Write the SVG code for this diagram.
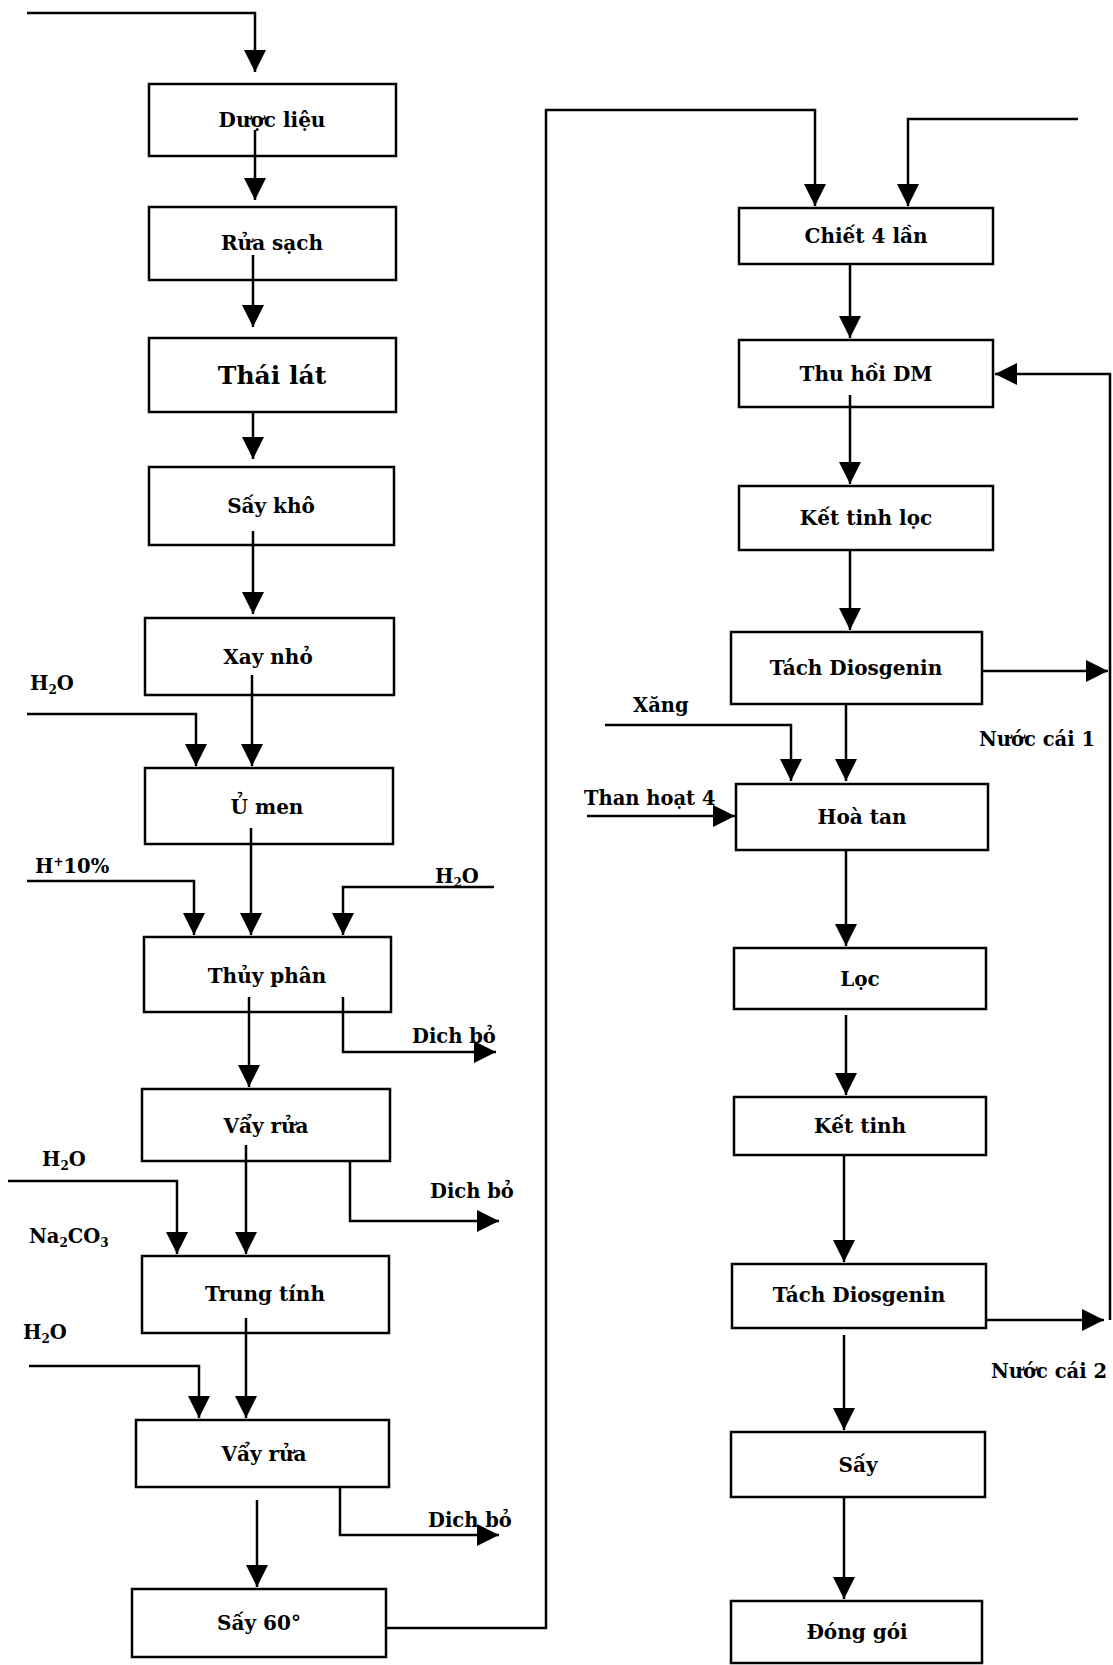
<svg xmlns="http://www.w3.org/2000/svg" width="1113" height="1665" viewBox="0 0 1113 1665">
<defs>
<marker id="ah" viewBox="0 0 22 22" refX="22" refY="11" markerWidth="22" markerHeight="22" markerUnits="userSpaceOnUse" orient="auto">
<path d="M0,0 L22,11 L0,22 z" fill="#000"/>
</marker>
<style>
.box{fill:#fff;stroke:#000;stroke-width:2.5}
.t{font-family:"DejaVu Serif","Liberation Serif",serif;font-weight:bold;font-size:20px;text-anchor:middle;fill:#000}
.l{font-family:"DejaVu Serif","Liberation Serif",serif;font-weight:bold;font-size:19.5px;fill:#000}
.c{fill:none;stroke:#000;stroke-width:2.5;marker-end:url(#ah)}
.s{font-size:12px}
</style>
</defs>
<rect width="1113" height="1665" fill="#fff"/>

<g id="n1"><rect class="box" x="149" y="84" width="247" height="72"/><text class="t" x="272" y="127">Dược liệu</text></g>
<g id="n2"><rect class="box" x="149" y="207" width="247" height="73"/><text class="t" x="272" y="250">Rửa sạch</text></g>
<g id="n3"><rect class="box" x="149" y="338" width="247" height="74"/><text class="t" x="272" y="384" style="font-size:25px">Thái lát</text></g>
<g id="n4"><rect class="box" x="149" y="467" width="245" height="78"/><text class="t" x="271" y="513">Sấy khô</text></g>
<g id="n5"><rect class="box" x="145" y="618" width="249" height="77"/><text class="t" x="268" y="664">Xay nhỏ</text></g>
<g id="n6"><rect class="box" x="145" y="768" width="248" height="76"/><text class="t" x="267" y="814">Ủ men</text></g>
<g id="n7"><rect class="box" x="144" y="937" width="247" height="75"/><text class="t" x="267" y="983">Thủy phân</text></g>
<g id="n8"><rect class="box" x="142" y="1089" width="248" height="72"/><text class="t" x="266" y="1133">Vẩy rửa</text></g>
<g id="n9"><rect class="box" x="142" y="1256" width="247" height="77"/><text class="t" x="265" y="1301">Trung tính</text></g>
<g id="n10"><rect class="box" x="136" y="1420" width="253" height="67"/><text class="t" x="264" y="1461">Vẩy rửa</text></g>
<g id="n11"><rect class="box" x="132" y="1589" width="254" height="68"/><text class="t" x="259" y="1630">Sấy 60°</text></g>

<g id="n12"><rect class="box" x="739" y="208" width="254" height="56"/><text class="t" x="866" y="243">Chiết 4 lần</text></g>
<g id="n13"><rect class="box" x="739" y="340" width="254" height="67"/><text class="t" x="866" y="381">Thu hồi DM</text></g>
<g id="n14"><rect class="box" x="739" y="486" width="254" height="64"/><text class="t" x="866" y="525">Kết tinh lọc</text></g>
<g id="n15"><rect class="box" x="731" y="632" width="251" height="72"/><text class="t" x="856" y="675">Tách Diosgenin</text></g>
<g id="n16"><rect class="box" x="736" y="784" width="252" height="66"/><text class="t" x="862" y="824">Hoà tan</text></g>
<g id="n17"><rect class="box" x="734" y="948" width="252" height="61"/><text class="t" x="860" y="986">Lọc</text></g>
<g id="n18"><rect class="box" x="734" y="1097" width="252" height="58"/><text class="t" x="860" y="1133">Kết tinh</text></g>
<g id="n19"><rect class="box" x="732" y="1264" width="254" height="64"/><text class="t" x="859" y="1302">Tách Diosgenin</text></g>
<g id="n20"><rect class="box" x="731" y="1432" width="254" height="65"/><text class="t" x="858" y="1472">Sấy</text></g>
<g id="n21"><rect class="box" x="731" y="1601" width="251" height="62"/><text class="t" x="857" y="1639">Đóng gói</text></g>

<g id="labels">
<text class="l" x="30" y="690">H<tspan class="s" dy="4">2</tspan><tspan dy="-4">O</tspan></text>
<text class="l" x="35" y="873">H<tspan class="s" dy="-7">+</tspan><tspan dy="7">10%</tspan></text>
<text class="l" x="435" y="883">H<tspan class="s" dy="4">2</tspan><tspan dy="-4">O</tspan></text>
<text class="l" x="412" y="1043">Dich bỏ</text>
<text class="l" x="430" y="1198">Dich bỏ</text>
<text class="l" x="42" y="1166">H<tspan class="s" dy="4">2</tspan><tspan dy="-4">O</tspan></text>
<text class="l" x="29" y="1243">Na<tspan class="s" dy="4">2</tspan><tspan dy="-4">CO</tspan><tspan class="s" dy="4">3</tspan></text>
<text class="l" x="23" y="1339">H<tspan class="s" dy="4">2</tspan><tspan dy="-4">O</tspan></text>
<text class="l" x="428" y="1527">Dich bỏ</text>
<text class="l" x="633" y="712">Xăng</text>
<text class="l" x="584" y="805">Than hoạt 4</text>
<text class="l" x="979" y="746">Nước cái 1</text>
<text class="l" x="991" y="1378">Nước cái 2</text>
</g>

<g id="connectors">
<path class="c" d="M27,13 H255 V72"/>
<path class="c" d="M255,130 V200"/>
<path class="c" d="M253,255 V327"/>
<path class="c" d="M253,412 V459"/>
<path class="c" d="M253,531 V614"/>
<path class="c" d="M27,714 H196 V766"/>
<path class="c" d="M252,675 V766"/>
<path class="c" d="M27,881 H194 V935"/>
<path class="c" d="M251,828 V935"/>
<path class="c" d="M494,887 H343 V935"/>
<path class="c" d="M249,997 V1087"/>
<path class="c" d="M343,997 V1052 H496"/>
<path class="c" d="M246,1145 V1254"/>
<path class="c" d="M350,1161 V1221 H499"/>
<path class="c" d="M8,1181 H177 V1254"/>
<path class="c" d="M29,1366 H199 V1418"/>
<path class="c" d="M246,1318 V1418"/>
<path class="c" d="M340,1487 V1535 H499"/>
<path class="c" d="M257,1500 V1587"/>
<path class="c" d="M386,1628 H546 V110 H815 V206"/>
<path class="c" d="M1078,119 H908 V206"/>
<path class="c" d="M850,264 V338"/>
<path class="c" d="M1110,1320 V374 H995"/>
<path class="c" d="M850,395 V484"/>
<path class="c" d="M850,550 V630"/>
<path class="c" d="M982,671 H1108"/>
<path class="c" d="M846,704 V781"/>
<path class="c" d="M605,725 H791 V781"/>
<path class="c" d="M587,816 H735"/>
<path class="c" d="M846,850 V946"/>
<path class="c" d="M846,1015 V1095"/>
<path class="c" d="M844,1155 V1262"/>
<path class="c" d="M986,1320 H1104"/>
<path class="c" d="M844,1335 V1430"/>
<path class="c" d="M844,1497 V1599"/>
</g>
</svg>
